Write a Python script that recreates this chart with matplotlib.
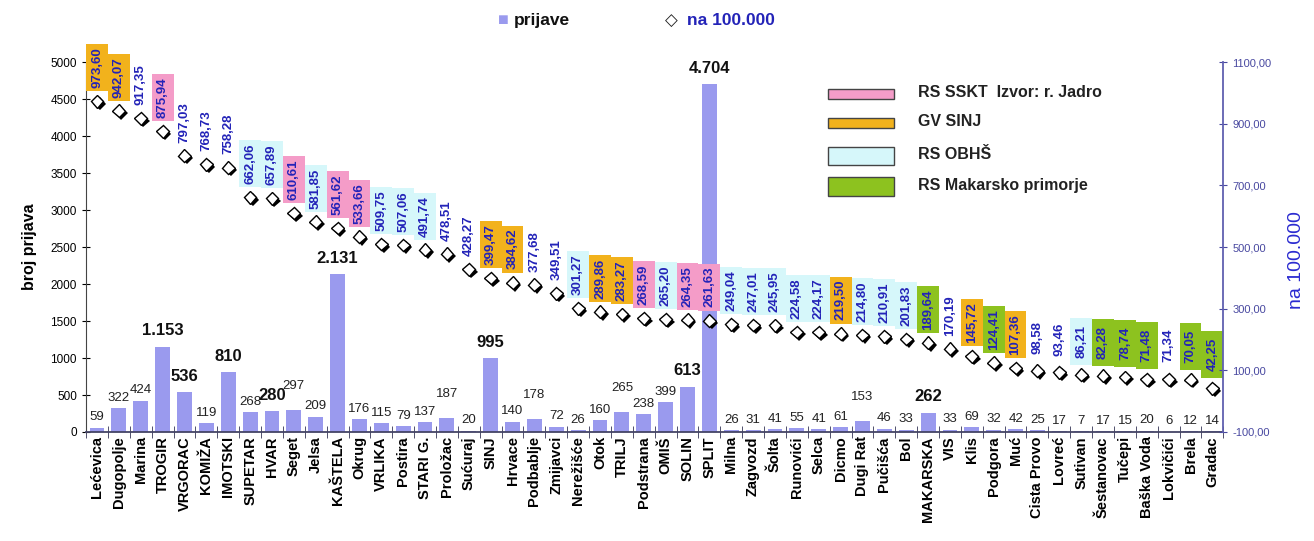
import matplotlib
matplotlib.use('Agg')
import matplotlib.pyplot as plt
import matplotlib.patheffects as pe
from matplotlib.patches import Rectangle
from matplotlib.ticker import FuncFormatter, MultipleLocator
import numpy as np

# data
places = ['Lećevica', 'Dugopolje', 'Marina', 'TROGIR', 'VRGORAC', 'KOMIŽA', 'IMOTSKI', 'SUPETAR',
          'HVAR', 'Seget', 'Jelsa', 'KAŠTELA', 'Okrug', 'VRLIKA', 'Postira', 'STARI G.', 'Proložac',
          'Sućuraj', 'SINJ', 'Hrvace', 'Podbablje', 'Zmijavci', 'Nerežišće', 'Otok', 'TRILJ',
          'Podstrana', 'OMIŠ', 'SOLIN', 'SPLIT', 'Milna', 'Zagvozd', 'Šolta', 'Runovići', 'Selca',
          'Dicmo', 'Dugi Rat', 'Pučišća', 'Bol', 'MAKARSKA', 'VIS', 'Klis', 'Podgora', 'Muć',
          'Cista Provo', 'Lovreć', 'Sutivan', 'Šestanovac', 'Tučepi', 'Baška Voda', 'Lokvičići',
          'Brela', 'Gradac']
prijave = [59, 322, 424, 1153, 536, 119, 810, 268, 280, 297, 209, 2131, 176, 115, 79, 137, 187,
           20, 995, 140, 178, 72, 26, 160, 265, 238, 399, 613, 4704, 26, 31, 41, 55, 41, 61, 153,
           46, 33, 262, 33, 69, 32, 42, 25, 17, 7, 17, 15, 20, 6, 12, 14]
na_100k = [973.60, 942.07, 917.35, 875.94, 797.03, 768.73, 758.28, 662.06, 657.89, 610.61, 581.85,
           561.62, 533.66, 509.75, 507.06, 491.74, 478.51, 428.27, 399.47, 384.62, 377.68, 349.51,
           301.27, 289.86, 283.27, 268.59, 265.20, 264.35, 261.63, 249.04, 247.01, 245.95, 224.58,
           224.17, 219.50, 214.80, 210.91, 201.83, 189.64, 170.19, 145.72, 124.41, 107.36, 98.58,
           93.46, 86.21, 82.28, 78.74, 71.48, 71.34, 70.05, 42.25]
# water supplier group per place: p=RS SSKT, o=GV SINJ, c=RS OBHŠ, g=RS Makarsko primorje
groups = ['o', 'o', '', 'p', '', '', '', 'c', 'c', 'p', 'c', 'p', 'p', 'c', 'c', 'c', '', '',
          'o', 'o', '', '', 'c', 'o', 'o', 'p', 'c', 'p', 'p', 'c', 'c', 'c', 'c', 'c', 'o', 'c',
          'c', 'c', 'g', '', 'o', 'g', 'o', '', '', 'c', 'g', 'g', 'g', '', 'g', 'g']
big_labels = ['TROGIR', 'VRGORAC', 'IMOTSKI', 'HVAR', 'KAŠTELA', 'SINJ', 'SOLIN', 'SPLIT', 'MAKARSKA']
raised_labels = ['Seget', 'Proložac', 'Podbablje', 'TRILJ', 'Dugi Rat']

group_colors = {'p': '#F49CC8', 'o': '#F2B21C', 'c': '#D6F7FA', 'g': '#8DC21F'}
group_names = [('p', 'RS SSKT  Izvor: r. Jadro'), ('o', 'GV SINJ'), ('c', 'RS OBHŠ'),
               ('g', 'RS Makarsko primorje')]
bar_color = '#9A9AEE'
blue = '#2323B8'

plt.rcParams['font.family'] = ['Liberation Sans', 'DejaVu Sans']

fig = plt.figure(figsize=(13.14, 5.41), dpi=100)
ax = fig.add_axes([0.0655, 0.2015, 0.8655, 0.6835])
ax2 = ax.twinx()

x = np.arange(len(places))
ax.bar(x, prijave, width=0.68, color=bar_color, zorder=2)
ax.set_xlim(-0.5, len(places) - 0.5)
ax.set_ylim(0, 5000)
ax.yaxis.set_major_locator(MultipleLocator(500))
ax.tick_params(axis='y', labelsize=8.5, direction='inout', length=6)
ax.set_xticks(x)
ax.set_xticklabels(places, rotation=90, fontsize=10.5, fontweight='bold')
ax.tick_params(axis='x', length=0, pad=3)
ax.set_xticks(np.arange(-0.5, len(places), 1), minor=True)
ax.tick_params(axis='x', which='minor', length=8, direction='inout', color='#333355')
ax.set_ylabel('broj prijava', fontsize=11.5, fontweight='bold', labelpad=10)
for s in ['top', 'right']:
    ax.spines[s].set_visible(False)
ax.spines['left'].set_color('#444444')
ax.spines['bottom'].set_color('#444466')
ax.spines['bottom'].set_linewidth(1.3)

# bar value labels
for i, (name, v) in enumerate(zip(places, prijave)):
    txt = f'{v:,}'.replace(',', '.')
    if name in big_labels:
        ax.annotate(txt, (i, v), xytext=(0, 6), textcoords='offset points', ha='center',
                    va='bottom', fontsize=12, fontweight='bold', color='#111111', zorder=5)
    else:
        dy = 13 if name in raised_labels else 3
        ax.annotate(txt, (i, v), xytext=(0, dy), textcoords='offset points', ha='center',
                    va='bottom', fontsize=9.5, color='#222222', zorder=5)

# rate per 100.000 on the right axis
ax2.set_ylim(-100, 1100)
ax2.set_yticks(np.arange(-100, 1101, 200))
ax2.yaxis.set_major_formatter(FuncFormatter(lambda v, p: f'{v:.2f}'.replace('.', ',')))
ax2.tick_params(axis='y', labelsize=8, colors='#4848A0', direction='inout', length=6)
for s in ['top', 'left', 'bottom']:
    ax2.spines[s].set_visible(False)
ax2.spines['right'].set_color('#6060B0')
ax2.spines['right'].set_linewidth(1.3)

ax2.plot(x, na_100k, linestyle='none', marker='D', markersize=6.5, markerfacecolor='white',
         markeredgecolor='black', markeredgewidth=1, zorder=4, clip_on=False,
         path_effects=[pe.SimplePatchShadow(offset=(1.8, -1.8), shadow_rgbFace='black', alpha=1),
                       pe.Normal()])

units_per_px = 1200 / 370.0
for i, (v, g) in enumerate(zip(na_100k, groups)):
    lo = v + 10 * units_per_px
    hi = v + 57 * units_per_px
    if g:
        ax2.add_patch(Rectangle((i - 0.5, lo), 1.0, hi - lo, facecolor=group_colors[g],
                                edgecolor='none', zorder=1, clip_on=False))
    ax2.text(i, (lo + hi) / 2, f'{v:.2f}'.replace('.', ','), rotation=90, ha='center',
             va='center', fontsize=9.5, fontweight='bold', color=blue, zorder=3, clip_on=False)

fig.text(0.993, 0.52, 'na 100.000', rotation=90, ha='right', va='center', fontsize=14,
         color='#2a2ad0')

# top legend
fig.text(0.383, 0.962, '■', fontsize=13, color=bar_color, ha='center', va='center')
fig.text(0.391, 0.962, 'prijave', fontsize=12.5, fontweight='bold', color='#111111', va='center')
fig.text(0.511, 0.962, '◇', fontsize=12, color='#222222', ha='center', va='center',
         family='DejaVu Sans')
fig.text(0.523, 0.962, 'na 100.000', fontsize=12.5, fontweight='bold', color=blue, va='center')

# water supplier legend
ys = [0.826, 0.772, 0.712, 0.655]
hs = [0.018, 0.018, 0.034, 0.034]
for (g, label), y, h in zip(group_names, ys, hs):
    fig.patches.append(Rectangle((0.6305, y - h / 2), 0.05, h, transform=fig.transFigure,
                                 facecolor=group_colors[g], edgecolor='#444444', lw=1))
    fig.text(0.699, y + 0.003, label, fontsize=11.5, fontweight='bold', color='#222222',
             va='center')

fig.savefig('out.png', dpi=100)
